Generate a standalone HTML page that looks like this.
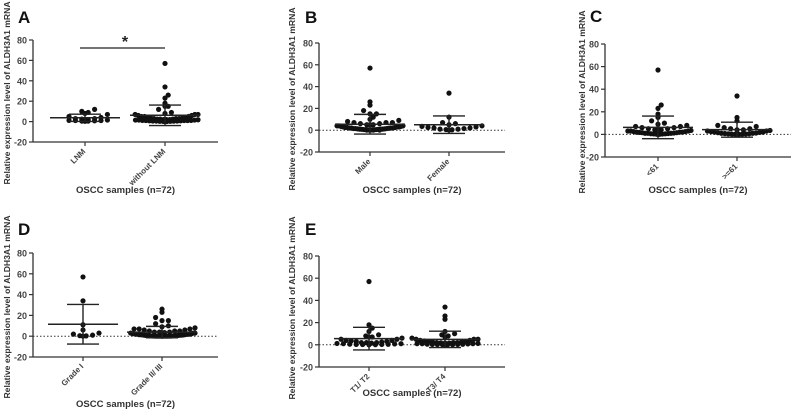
<!DOCTYPE html>
<html><head><meta charset="utf-8">
<style>
html,body{margin:0;padding:0;background:#fff;}
svg{display:block;}
text{font-family:"Liberation Sans",Arial,sans-serif;}
</style></head>
<body>
<svg id="fig" width="791" height="414" viewBox="0 0 791 414" xmlns="http://www.w3.org/2000/svg"></svg>
<script>
// ---- data (relative expression values per group) ----
const yTicks = [80, 60, 40, 20, 0, -20];
const catsA = ["LNM", "without LNM"];
const valsA1 = [12,10,9,8,7,5,4,3,3,2.5,2,2,1.5,1.2,1,1,0.8,0.5,0.5,0.3];
const valsA2 = [57,34,26,23,18,15,15,12,9,8,7,7,7,6,6,5,5,5,4,4,3.5,3.5,3,3,3,2.5,2.5,2.5,2,2,2,2,1.8,1.5,1.5,1.5,1.2,1.2,1,1,1,0.8,0.8,0.6,0.6,0.5,0.4,0.3,0.3,0.2,0.1,0.1];
const catsB = ["Male", "Female"];
const valsB1 = [57,26,23,18,15,15,12,10,9,8,7,7,7,6,6,5,5,5,4,4,4,3.5,3.5,3,3,3,2.5,2.5,2.5,2,2,2,2,1.8,1.5,1.5,1.5,1.2,1.2,1,1,1,0.8,0.8,0.6,0.6,0.5,0.4,0.3,0.3,0.2,0.1,0.1,0.1,0];
const valsB2 = [34,12,7,6,5,4,3.5,3,2.5,2,2,1.5,1,1,0.6,0.4,0.2];
const catsC = ["<61", ">=61"];
const valsC1 = [57,26,23,18,15,12,10,9,8,7,7,6,6,5,5,4,4,4,3.5,3,3,3,2.5,2.5,2,2,2,1.8,1.5,1.5,1.2,1,1,1,0.8,0.6,0.5,0.4,0.3,0.2,0.1,0];
const valsC2 = [34,15,12,8,7,6,5,5,4,4,3.5,3,3,2.5,2,2,1.8,1.5,1.2,1,1,0.8,0.6,0.5,0.4,0.3,0.2,0.1,0.1,0];
const catsD = ["Grade I", "Grade II/ III"];
const valsD1 = [57,34,11,6,3,2,1,0.5,0.3,0];
const valsD2 = [26,23,18,15,15,12,10,9,8,7,7,7,6,6,5,5,5,4,4,4,3.5,3.5,3,3,3,2.5,2.5,2.5,2,2,2,2,1.8,1.5,1.5,1.5,1.2,1.2,1,1,1,0.8,0.8,0.6,0.6,0.5,0.4,0.3,0.3,0.2,0.1,0.1,0.1,0,0,0,0,0,0,0,0,0];
const catsE = ["T1/ T2", "T3/ T4"];
const valsE1 = [57,18,15,12,9,8,7,7,6,5,5,4,4,3.5,3,3,2.5,2,2,2,1.5,1.5,1.2,1,1,0.8,0.6,0.5,0.4,0.3,0.2,0.1,0];
const valsE2 = [34,26,23,12,10,9,8,7,6,5,5,5,4,4,3.5,3,3,2.5,2.5,2,2,2,1.8,1.5,1.5,1.2,1,1,1,0.8,0.6,0.5,0.4,0.3,0.2,0.1,0.1,0,0];

// ---- layout (positions only) ----
const panels = [
  {id:"a", letter:"A", lx:18, ly:23, ax:33, yTop:40, yBot:142, xEnd:218, c1:85, c2:165, titleX:7, titleCY:93, xTitleY:193, cats:catsA, g1:valsA1, g2:valsA2, zero:false, sig:true},
  {id:"b", letter:"B", lx:305, ly:23, ax:319, yTop:43, yBot:152, xEnd:505, c1:370, c2:449, titleX:292, titleCY:99, xTitleY:193, cats:catsB, g1:valsB1, g2:valsB2, zero:true},
  {id:"c", letter:"C", lx:590, ly:22, ax:605, yTop:44, yBot:157, xEnd:791, c1:658, c2:737, titleX:582, titleCY:102, xTitleY:193, cats:catsC, g1:valsC1, g2:valsC2, zero:true},
  {id:"d", letter:"D", lx:18, ly:235, ax:33, yTop:253, yBot:357, xEnd:218, c1:83, c2:162, titleX:7, titleCY:307, xTitleY:407, cats:catsD, g1:valsD1, g2:valsD2, zero:true},
  {id:"e", letter:"E", lx:305, ly:235, ax:319, yTop:256, yBot:367, xEnd:505, c1:369, c2:445, titleX:292, titleCY:308, xTitleY:396, cats:catsE, g1:valsE1, g2:valsE2, zero:true}
];

const NS = "http://www.w3.org/2000/svg";
const svg = document.getElementById("fig");
function mk(tag, attrs, parent){
  const e = document.createElementNS(NS, tag);
  for (const k in attrs) e.setAttribute(k, attrs[k]);
  (parent||svg).appendChild(e);
  return e;
}
const R = 2.6;
function mean(a){return a.reduce((s,v)=>s+v,0)/a.length;}
function sd(a){const m=mean(a);return Math.sqrt(a.reduce((s,v)=>s+(v-m)*(v-m),0)/(a.length-1));}

panels.forEach(p=>{
  const g = mk("g",{});
  
  
  const y = v => p.yBot - (v + 20) / 100 * (p.yBot - p.yTop);

  const L = mk("text",{x:p.lx,y:p.ly,"font-family":"Liberation Serif, serif","font-weight":"bold","font-size":17,fill:"#111"},g);
  L.textContent = p.letter;
  
  

  const ya = mk("line",{x1:p.ax,y1:p.yTop,x2:p.ax,y2:p.yBot,stroke:"#333","stroke-width":1.3},g);
  
  
  yTicks.forEach(t=>{
    mk("line",{x1:p.ax-4,y1:y(t),x2:p.ax,y2:y(t),stroke:"#333","stroke-width":1.2},g);
    const tt = mk("text",{x:p.ax-6,y:y(t)+3.5,"text-anchor":"end","font-size":9,"font-weight":"bold",fill:"#444"},g);
    tt.textContent = t;
    
    
  });
  const xa = mk("line",{x1:p.ax,y1:p.yBot,x2:p.xEnd,y2:p.yBot,stroke:"#333","stroke-width":1.3},g);
  
  
  if (p.zero){
    const z = mk("line",{x1:p.ax,y1:y(0),x2:p.xEnd,y2:y(0),stroke:"#333","stroke-width":1,"stroke-dasharray":"1.5,2"},g);
    
    
  }
  const cy = p.titleCY;
  const yt = mk("text",{x:p.titleX+3,y:cy,transform:`rotate(-90 ${p.titleX+3} ${cy})`,"text-anchor":"middle","font-size":8.6,"font-weight":"bold",fill:"#333"},g);
  yt.textContent = "Relative expression level of ALDH3A1 mRNA";
  
  
  const xt = mk("text",{x:(p.ax+Math.min(p.xEnd,p.ax+186))/2,y:p.xTitleY,"text-anchor":"middle","font-size":9.5,"font-weight":"bold",fill:"#333"},g);
  xt.textContent = "OSCC samples (n=72)";
  
  

  [[p.c1,p.g1,p.cats[0]],[p.c2,p.g2,p.cats[1]]].forEach(([cx,vals,cat])=>{
    mk("line",{x1:cx,y1:p.yBot,x2:cx,y2:p.yBot+4,stroke:"#333","stroke-width":1.2},g);
    const ct = mk("text",{x:cx+1,y:p.yBot+10,transform:`rotate(-45 ${cx+1} ${p.yBot+10})`,"text-anchor":"end","font-size":8,"font-weight":"bold",fill:"#444"},g);
    ct.textContent = cat;
    
    
    const rows = {};
    vals.forEach(v=>{
      const key = Math.floor(y(v) / (2*R));
      (rows[key] = rows[key] || []).push(v);
    });
    Object.keys(rows).forEach(key=>{
      const rv = rows[key].slice().sort((a,b)=>a-b);
      const n = rv.length;
      let step = 2*R + 1.2;
      const maxW = 66;
      if ((n-1)*step > maxW) step = maxW/(n-1);
      rv.forEach((v,i)=>{
        const slot = i===0 ? 0 : (i%2 ? Math.ceil(i/2) : -Math.ceil(i/2));
        const off = n===1 ? 0 : (slot + (n%2===0?(slot>=0?-0.5:0.5):0) + (n%2===0&&slot===0?0.5:0)) * step;
        const c = mk("circle",{cx:cx+off,cy:y(v),r:R,fill:"#111"},g);
        
        
      });
    });
    const m = mean(vals), s = sd(vals);
    const ml = mk("line",{x1:cx-35,y1:y(m),x2:cx+35,y2:y(m),stroke:"#222","stroke-width":1.5},g);
    
    
    const el = mk("path",{d:`M${cx},${y(m+s)}V${y(m-s)}M${cx-16},${y(m+s)}H${cx+16}M${cx-16},${y(m-s)}H${cx+16}`,stroke:"#222","stroke-width":1.4,fill:"none"},g);
    
    
  });

  if (p.sig){
    const sl = mk("line",{x1:p.c1-5,y1:48,x2:p.c2,y2:48,stroke:"#222","stroke-width":1.2},g);
    
    
    const st = mk("text",{x:(p.c1+p.c2)/2,y:47,"text-anchor":"middle","font-size":16,"font-weight":"bold",fill:"#222"},g);
    st.textContent = "*";
    
    
  }
});
</script>
</body></html>
